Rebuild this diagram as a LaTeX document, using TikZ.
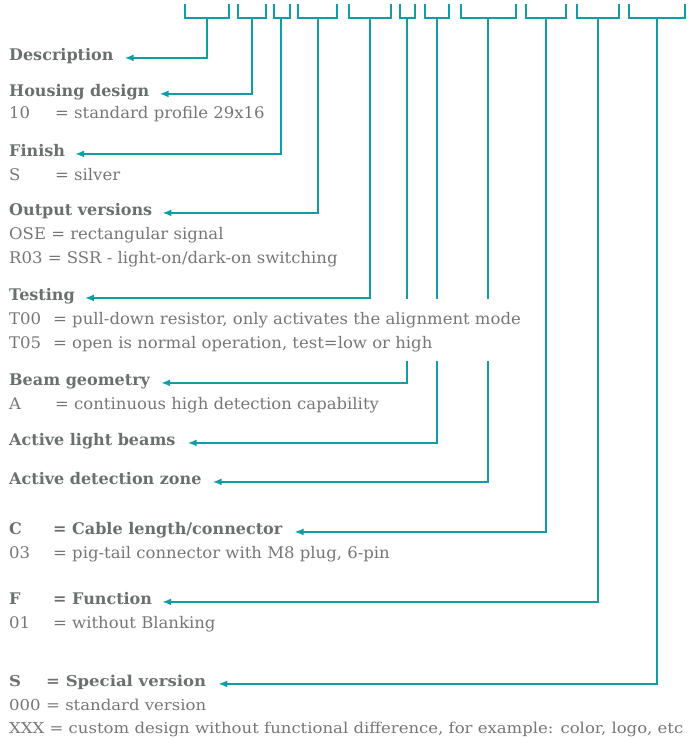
\documentclass[tikz,border=0pt]{standalone}
\usepackage{fontspec}
\setmainfont{DejaVu Serif}[UprightFeatures={FakeStretch=1.03}]
\newfontfamily\lastfont{DejaVu Serif}[FakeStretch=1.1]
\usetikzlibrary{arrows.meta}
\definecolor{teal1}{RGB}{16,157,165}
\definecolor{txt}{RGB}{118,118,118}
\definecolor{hd}{RGB}{106,112,110}
\begin{document}
\begin{tikzpicture}[x=1pt,y=-1pt,
  lbl/.style={anchor=base west, inner sep=0pt, font=\fontsize{16}{16}\selectfont, text=txt},
  head/.style={lbl, font=\fontsize{16}{16}\selectfont\bfseries, text=hd},
  clbl/.style={lbl, font=\fontsize{15}{15}\selectfont\lastfont},
  chead/.style={lbl, font=\fontsize{15}{15}\selectfont\lastfont\bfseries, text=hd},
  brk/.style={draw=teal1, line width=1.6pt},
  arr/.style={brk, -{Latex[length=9pt,width=7pt]}},
]
\useasboundingbox (0,0) rectangle (688,738);
% brackets
\foreach \i/\l/\m/\r in {1/185/207/229, 2/238/252/266, 3/274/281/290, 4/298/318/337,
  5/349/370/391, 6/400/407/415, 7/425/437/449, 8/461/488/516, 9/526/546/566,
  10/577/598/619, 11/629/657/685}{
  \draw[brk] (\l,4) |- (\r,18) -- (\r,4);
  \coordinate (b\i) at (\m,18);
}
% texts
\node[head] (h1) at (9,60.5) {Description};
\node[head] (h2) at (9,96.5) {Housing design};
\node[lbl] (k2) at (9,119) {10};
\node[lbl] (v2) at (55,119) {= standard profile 29x16};
\node[head] (h3) at (9,156.5) {Finish};
\node[lbl] (k3) at (9,180) {S};
\node[lbl] (v3) at (55,180) {= silver};
\node[head] (h4) at (9,215.5) {Output versions};
\node[lbl] (v4a) at (9,239.5) {OSE = rectangular signal};
\node[lbl] (v4b) at (9,263) {R03 = SSR - light-on/dark-on switching};
\node[head] (h5) at (9,300.5) {Testing};
\node[lbl] (k5a) at (9,324.5) {T00};
\node[lbl] (v5a) at (53,324.5) {= pull-down resistor, only activates the alignment mode};
\node[lbl] (k5b) at (9,348) {T05};
\node[lbl] (v5b) at (53,348) {= open is normal operation, test=low or high};
\node[head] (h6) at (9,385.5) {Beam geometry};
\node[lbl] (k6) at (9,409.5) {A};
\node[lbl] (v6) at (55,409.5) {= continuous high detection capability};
\node[head] (h7) at (9,445.5) {Active light beams};
\node[head] (h8) at (9,484.5) {Active detection zone};
\node[head] (k9) at (9,534.5) {C};
\node[head] (h9) at (53,534.5) {= Cable length/connector};
\node[lbl] (k9b) at (9,558.5) {03};
\node[lbl] (v9b) at (53,558.5) {= pig-tail connector with M8 plug, 6-pin};
\node[head] (k10) at (9,604.5) {F};
\node[head] (h10) at (53,604.5) {= Function};
\node[lbl] (k10b) at (9,628.5) {01};
\node[lbl] (v10b) at (53,628.5) {= without Blanking};
\node[chead] (k11) at (9,686.5) {S};
\node[chead] (h11) at (46,686.5) {= Special version};
\node[clbl] (k11a) at (9,710) {000};
\node[clbl] (v11a) at (46,710) {= standard version};
\node[clbl] (v11b) at (9,733) {XXX = custom design without functional difference, for example: color, logo, etc};
% connectors
\draw[arr] (b1) |- ([xshift=11pt]h1.mid east);
\draw[arr] (b2) |- ([xshift=10pt]h2.mid east);
\draw[arr] (b3) |- ([xshift=10pt]h3.mid east);
\draw[arr] (b4) |- ([xshift=10pt]h4.mid east);
\draw[arr] (b5) |- ([xshift=10pt]h5.mid east);
\coordinate (g6) at (407,299); \coordinate (r6) at (407,361);
\coordinate (g7) at (437,299); \coordinate (r7) at (437,361);
\coordinate (g8) at (488,299); \coordinate (r8) at (488,361);
\draw[brk] (b6) -- (g6);
\draw[brk] (b7) -- (g7);
\draw[brk] (b8) -- (g8);
\draw[arr] (r6) |- ([xshift=11pt]h6.mid east);
\draw[arr] (r7) |- ([xshift=12pt]h7.mid east);
\draw[arr] (r8) |- ([xshift=11pt]h8.mid east);
\draw[arr] (b9) |- ([xshift=12pt]h9.mid east);
\draw[arr] (b10) |- ([xshift=10pt]h10.mid east);
\draw[arr] (b11) |- ([xshift=12pt]h11.mid east);
\end{tikzpicture}
\end{document}
